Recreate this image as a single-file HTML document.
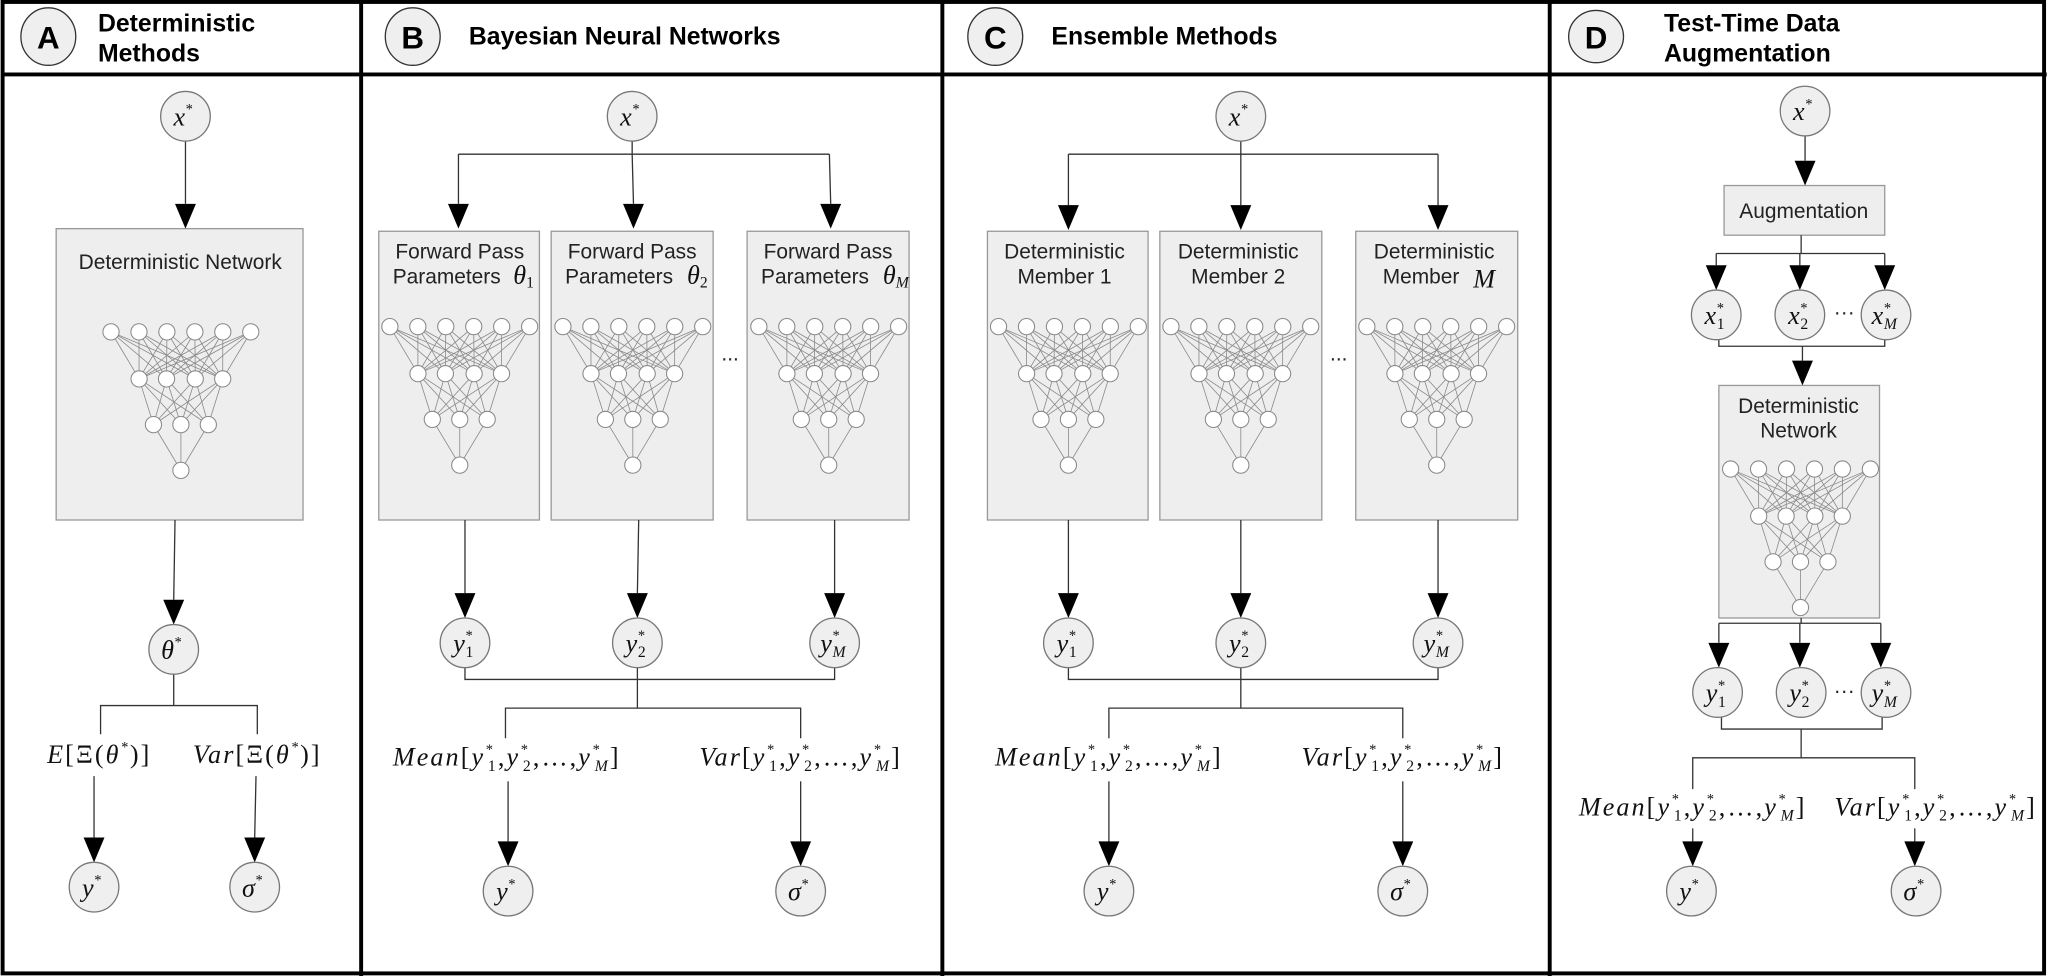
<!DOCTYPE html>
<html><head><meta charset="utf-8">
<style>
html,body{margin:0;padding:0;background:#fff;}
svg{display:block}
.h{font-family:"Liberation Sans",sans-serif;font-weight:bold;font-size:19px;fill:#000}
.hl{font-family:"Liberation Sans",sans-serif;font-weight:bold;font-size:24px;fill:#000}
.b{font-family:"Liberation Sans",sans-serif;font-size:16px;fill:#222}
.m{font-family:"Liberation Serif","DejaVu Serif",serif;font-style:italic;font-size:20px;fill:#111}
.f{letter-spacing:1.6px}
.s{font-size:11px}
.u{font-size:12px;font-style:normal}
.um{font-size:12px}
</style></head>
<body>
<svg id="S" width="2048" height="976" viewBox="0 0 1568 747" preserveAspectRatio="none" xmlns="http://www.w3.org/2000/svg">
<rect x="0" y="0" width="1568" height="747" fill="#fff"/>
<!-- boxes -->
<g fill="#eeeeee" stroke="#999" stroke-width="1">
<rect x="43" y="175" width="189" height="223"/>
<rect x="290" y="177" width="123" height="221"/>
<rect x="422" y="177" width="124" height="221"/>
<rect x="572" y="177" width="124" height="221"/>
<rect x="756" y="177" width="123" height="221"/>
<rect x="888" y="177" width="124" height="221"/>
<rect x="1038" y="177" width="124" height="221"/>
<rect x="1320" y="142" width="123" height="38"/>
<rect x="1316" y="295" width="123" height="178"/>
</g>
<g id="nets"></g>
<g id="arr"></g>
<!-- borders -->
<g stroke="#000" stroke-width="3" fill="none">
<rect x="2" y="1.5" width="1563" height="743.5"/>
<line x1="1" y1="57" x2="1567" y2="57"/>
<line x1="276.5" y1="0" x2="276.5" y2="747"/>
<line x1="721.5" y1="0" x2="721.5" y2="747"/>
<line x1="1186.5" y1="0" x2="1186.5" y2="747"/>
</g>
<!-- header circles -->
<g fill="#efefef" stroke="#333" stroke-width="1">
<ellipse cx="37" cy="28" rx="21" ry="22"/>
<ellipse cx="316" cy="28" rx="21" ry="22"/>
<ellipse cx="762" cy="28" rx="21" ry="22"/>
<ellipse cx="1222" cy="28" rx="21" ry="20"/>
</g>
<text class="hl" x="37" y="37" text-anchor="middle">A</text>
<text class="hl" x="316" y="37" text-anchor="middle">B</text>
<text class="hl" x="762" y="37" text-anchor="middle">C</text>
<text class="hl" x="1222" y="37" text-anchor="middle">D</text>
<text class="h" x="75" y="24">Deterministic</text>
<text class="h" x="75" y="47">Methods</text>
<text class="h" x="359" y="34">Bayesian Neural Networks</text>
<text class="h" x="805" y="34">Ensemble Methods</text>
<text class="h" x="1274" y="24">Test-Time Data</text>
<text class="h" x="1274" y="47">Augmentation</text>

<text class="b" x="138" y="206" text-anchor="middle">Deterministic Network</text>
<text class="b" x="352" y="198" text-anchor="middle">Forward Pass</text>
<text class="b" x="342" y="217" text-anchor="middle">Parameters</text><text class="m" x="393" y="217">θ<tspan class="u" dy="3">1</tspan></text>
<text class="b" x="484" y="198" text-anchor="middle">Forward Pass</text>
<text class="b" x="474" y="217" text-anchor="middle">Parameters</text><text class="m" x="526" y="217">θ<tspan class="u" dy="3">2</tspan></text>
<text class="b" x="634" y="198" text-anchor="middle">Forward Pass</text>
<text class="b" x="624" y="217" text-anchor="middle">Parameters</text><text class="m" x="676" y="217">θ<tspan class="um" dy="3">M</tspan></text>
<text class="b" x="815" y="198" text-anchor="middle">Deterministic</text>
<text class="b" x="815" y="217" text-anchor="middle">Member 1</text>
<text class="b" x="948" y="198" text-anchor="middle">Deterministic</text>
<text class="b" x="948" y="217" text-anchor="middle">Member 2</text>
<text class="b" x="1098" y="198" text-anchor="middle">Deterministic</text>
<text class="b" x="1088" y="217" text-anchor="middle">Member</text><text class="m" x="1128" y="220">M</text>
<text class="b" x="1381" y="167" text-anchor="middle">Augmentation</text>
<text class="b" x="1377" y="316" text-anchor="middle">Deterministic</text>
<text class="b" x="1377" y="335" text-anchor="middle">Network</text>
<text class="b" x="559" y="276" text-anchor="middle">...</text>
<text class="b" x="1025" y="276" text-anchor="middle">...</text>
<text class="b" x="1412" y="244" text-anchor="middle" font-size="12">···</text>
<text class="b" x="1412" y="534" text-anchor="middle" font-size="12">···</text>

<!-- plain connectors -->
<g stroke="#333" stroke-width="1" fill="none">
<polyline points="133,516 133,540"/>
<polyline points="77,562 77,540 197,540 197,562"/>
<polyline points="484,108 484,118"/>
<polyline points="351,118 635,118"/>
<polyline points="356,511 356,520 639,520 639,511"/>
<polyline points="488,511 488,542"/>
<polyline points="387,565 387,542 613,542 613,565"/>
<polyline points="950,108 950,118"/>
<polyline points="818,118 1101,118"/>
<polyline points="818,511 818,520 1101,520 1101,511"/>
<polyline points="950,511 950,542"/>
<polyline points="849,565 849,542 1074,542 1074,565"/>
<polyline points="1379,180 1379,194"/>
<polyline points="1314,194 1443,194"/>
<polyline points="1316,260 1316,265 1443,265 1443,260"/>
<polyline points="1379,473 1379,477"/>
<polyline points="1316,477 1440,477"/>
<polyline points="1318,549 1318,558 1441,558 1441,549"/>
<polyline points="1379,558 1379,580"/>
<polyline points="1296,604 1296,580 1466,580 1466,604"/>
</g>

<!-- circles -->
<g fill="#efefef" stroke="#777" stroke-width="1">
<circle cx="142" cy="89" r="19"/>
<circle cx="133" cy="497" r="19"/>
<circle cx="72" cy="679" r="19"/>
<circle cx="195" cy="679" r="19"/>
<circle cx="484" cy="89" r="19"/>
<circle cx="356" cy="492" r="19"/>
<circle cx="488" cy="492" r="19"/>
<circle cx="639" cy="492" r="19"/>
<circle cx="389" cy="682" r="19"/>
<circle cx="613" cy="682" r="19"/>
<circle cx="950" cy="89" r="19"/>
<circle cx="818" cy="492" r="19"/>
<circle cx="950" cy="492" r="19"/>
<circle cx="1101" cy="492" r="19"/>
<circle cx="849" cy="682" r="19"/>
<circle cx="1074" cy="682" r="19"/>
<circle cx="1382" cy="85" r="19"/>
<circle cx="1314" cy="241" r="19"/>
<circle cx="1378" cy="241" r="19"/>
<circle cx="1444" cy="241" r="19"/>
<circle cx="1315" cy="530" r="19"/>
<circle cx="1379" cy="530" r="19"/>
<circle cx="1444" cy="530" r="19"/>
<circle cx="1295" cy="682" r="19"/>
<circle cx="1467" cy="682" r="19"/>
</g>

<!-- circle labels -->
<g class="m" text-anchor="middle">
<text x="140" y="96">x<tspan class="s" dy="-9">*</tspan></text>
<text x="482" y="96">x<tspan class="s" dy="-9">*</tspan></text>
<text x="948" y="96">x<tspan class="s" dy="-9">*</tspan></text>
<text x="1380" y="92">x<tspan class="s" dy="-9">*</tspan></text>
<text x="131" y="504">θ<tspan class="s" dy="-9">*</tspan></text>
<text x="70" y="686">y<tspan class="s" dy="-9">*</tspan></text>
<text x="193" y="686">σ<tspan class="s" dy="-9">*</tspan></text>
<text x="387" y="689">y<tspan class="s" dy="-9">*</tspan></text>
<text x="611" y="689">σ<tspan class="s" dy="-9">*</tspan></text>
<text x="847" y="689">y<tspan class="s" dy="-9">*</tspan></text>
<text x="1072" y="689">σ<tspan class="s" dy="-9">*</tspan></text>
<text x="1293" y="689">y<tspan class="s" dy="-9">*</tspan></text>
<text x="1465" y="689">σ<tspan class="s" dy="-9">*</tspan></text>
</g>
<g class="m">
<text x="347" y="499">y<tspan class="s" dy="-9">*</tspan><tspan class="u" dx="-5" dy="13">1</tspan></text>
<text x="479" y="499">y<tspan class="s" dy="-9">*</tspan><tspan class="u" dx="-5" dy="13">2</tspan></text>
<text x="628" y="499">y<tspan class="s" dy="-9">*</tspan><tspan class="um" dx="-5" dy="13">M</tspan></text>
<text x="809" y="499">y<tspan class="s" dy="-9">*</tspan><tspan class="u" dx="-5" dy="13">1</tspan></text>
<text x="941" y="499">y<tspan class="s" dy="-9">*</tspan><tspan class="u" dx="-5" dy="13">2</tspan></text>
<text x="1090" y="499">y<tspan class="s" dy="-9">*</tspan><tspan class="um" dx="-5" dy="13">M</tspan></text>
<text x="1305" y="248">x<tspan class="s" dy="-9">*</tspan><tspan class="u" dx="-5" dy="13">1</tspan></text>
<text x="1369" y="248">x<tspan class="s" dy="-9">*</tspan><tspan class="u" dx="-5" dy="13">2</tspan></text>
<text x="1433" y="248">x<tspan class="s" dy="-9">*</tspan><tspan class="um" dx="-5" dy="13">M</tspan></text>
<text x="1306" y="537">y<tspan class="s" dy="-9">*</tspan><tspan class="u" dx="-5" dy="13">1</tspan></text>
<text x="1370" y="537">y<tspan class="s" dy="-9">*</tspan><tspan class="u" dx="-5" dy="13">2</tspan></text>
<text x="1433" y="537">y<tspan class="s" dy="-9">*</tspan><tspan class="um" dx="-5" dy="13">M</tspan></text>
</g>

<!-- formula labels -->
<g class="m f" text-anchor="middle">
<text x="76" y="584">E<tspan font-style="normal">[Ξ(</tspan>θ<tspan class="s" dy="-9">*</tspan><tspan font-style="normal" dy="9">)]</tspan></text>
<text x="197" y="584">Var<tspan font-style="normal">[Ξ(</tspan>θ<tspan class="s" dy="-9">*</tspan><tspan font-style="normal" dy="9">)]</tspan></text>
<text x="388" y="586">Mean<tspan font-style="normal">[</tspan>y<tspan class="s" dy="-9">*</tspan><tspan class="u" dx="-5" dy="13">1</tspan><tspan font-style="normal" dy="-4">,</tspan>y<tspan class="s" dy="-9">*</tspan><tspan class="u" dx="-5" dy="13">2</tspan><tspan font-style="normal" dy="-4">,…,</tspan>y<tspan class="s" dy="-9">*</tspan><tspan class="um" dx="-5" dy="13">M</tspan><tspan font-style="normal" dy="-4">]</tspan></text>
<text x="613" y="586">Var<tspan font-style="normal">[</tspan>y<tspan class="s" dy="-9">*</tspan><tspan class="u" dx="-5" dy="13">1</tspan><tspan font-style="normal" dy="-4">,</tspan>y<tspan class="s" dy="-9">*</tspan><tspan class="u" dx="-5" dy="13">2</tspan><tspan font-style="normal" dy="-4">,…,</tspan>y<tspan class="s" dy="-9">*</tspan><tspan class="um" dx="-5" dy="13">M</tspan><tspan font-style="normal" dy="-4">]</tspan></text>
<text x="849" y="586">Mean<tspan font-style="normal">[</tspan>y<tspan class="s" dy="-9">*</tspan><tspan class="u" dx="-5" dy="13">1</tspan><tspan font-style="normal" dy="-4">,</tspan>y<tspan class="s" dy="-9">*</tspan><tspan class="u" dx="-5" dy="13">2</tspan><tspan font-style="normal" dy="-4">,…,</tspan>y<tspan class="s" dy="-9">*</tspan><tspan class="um" dx="-5" dy="13">M</tspan><tspan font-style="normal" dy="-4">]</tspan></text>
<text x="1074" y="586">Var<tspan font-style="normal">[</tspan>y<tspan class="s" dy="-9">*</tspan><tspan class="u" dx="-5" dy="13">1</tspan><tspan font-style="normal" dy="-4">,</tspan>y<tspan class="s" dy="-9">*</tspan><tspan class="u" dx="-5" dy="13">2</tspan><tspan font-style="normal" dy="-4">,…,</tspan>y<tspan class="s" dy="-9">*</tspan><tspan class="um" dx="-5" dy="13">M</tspan><tspan font-style="normal" dy="-4">]</tspan></text>
<text x="1296" y="624">Mean<tspan font-style="normal">[</tspan>y<tspan class="s" dy="-9">*</tspan><tspan class="u" dx="-5" dy="13">1</tspan><tspan font-style="normal" dy="-4">,</tspan>y<tspan class="s" dy="-9">*</tspan><tspan class="u" dx="-5" dy="13">2</tspan><tspan font-style="normal" dy="-4">,…,</tspan>y<tspan class="s" dy="-9">*</tspan><tspan class="um" dx="-5" dy="13">M</tspan><tspan font-style="normal" dy="-4">]</tspan></text>
<text x="1482" y="624">Var<tspan font-style="normal">[</tspan>y<tspan class="s" dy="-9">*</tspan><tspan class="u" dx="-5" dy="13">1</tspan><tspan font-style="normal" dy="-4">,</tspan>y<tspan class="s" dy="-9">*</tspan><tspan class="u" dx="-5" dy="13">2</tspan><tspan font-style="normal" dy="-4">,…,</tspan>y<tspan class="s" dy="-9">*</tspan><tspan class="um" dx="-5" dy="13">M</tspan><tspan font-style="normal" dy="-4">]</tspan></text>
</g>
</svg>
<script>
var NS="http://www.w3.org/2000/svg";
function el(p,t,a){var e=document.createElementNS(NS,t);for(var k in a)e.setAttribute(k,a[k]);p.appendChild(e);return e;}
var nets=document.getElementById("nets"),arr=document.getElementById("arr");
function net(cx,ty){
  var L=[[-53.5,-32.1,-10.7,10.7,32.1,53.5].map(function(v){return[cx+v,ty]}),
         [-32,-11,11,32].map(function(v){return[cx+v,ty+36]}),
         [-21,0,21].map(function(v){return[cx+v,ty+71]}),
         [[cx,ty+106]]];
  for(var i=0;i<3;i++)L[i].forEach(function(a){L[i+1].forEach(function(b){
    el(nets,"line",{x1:a[0],y1:a[1],x2:b[0],y2:b[1],stroke:"#888","stroke-width":0.6});});});
  L.forEach(function(l){l.forEach(function(n){el(nets,"circle",{cx:n[0],cy:n[1],r:6.2,fill:"#fff",stroke:"#888","stroke-width":0.8});});});
}
[[138.5,254],[352,250],[484.5,250],[634.5,250],[818,250],[950,250],[1100,250],[1378.5,359]].forEach(function(p){net(p[0],p[1]);});
function A(x1,y1,x2,y2){
  var h=19,w=8;
  el(arr,"line",{x1:x1,y1:y1,x2:x2,y2:y2-h,stroke:"#333","stroke-width":1});
  el(arr,"polygon",{points:(x2-w)+","+(y2-h)+" "+(x2+w)+","+(y2-h)+" "+x2+","+y2,fill:"#000"});
}
A(142,108,142,175);A(134,398,133,478);A(72,594,72,660);A(196,594,195,660);
A(351,118,351,175);A(484,118,485,175);A(635,118,636,175);
A(356,398,356,473);A(489,398,488,473);A(639,398,639,473);
A(389,598,389,663);A(613,598,613,663);
A(818,118,818,176);A(950,118,950,176);A(1101,118,1101,176);
A(818,398,818,473);A(950,398,950,473);A(1101,398,1101,473);
A(849,598,849,663);A(1074,598,1074,663);
A(1382,104,1382,142);A(1314,194,1314,222);A(1378,194,1378,222);A(1443,194,1443,222);
A(1380,265,1380,295);
A(1316,477,1316,511);A(1378,477,1378,511);A(1440,477,1440,511);
A(1296,634,1296,663);A(1466,634,1466,663);
</script>
</body></html>
